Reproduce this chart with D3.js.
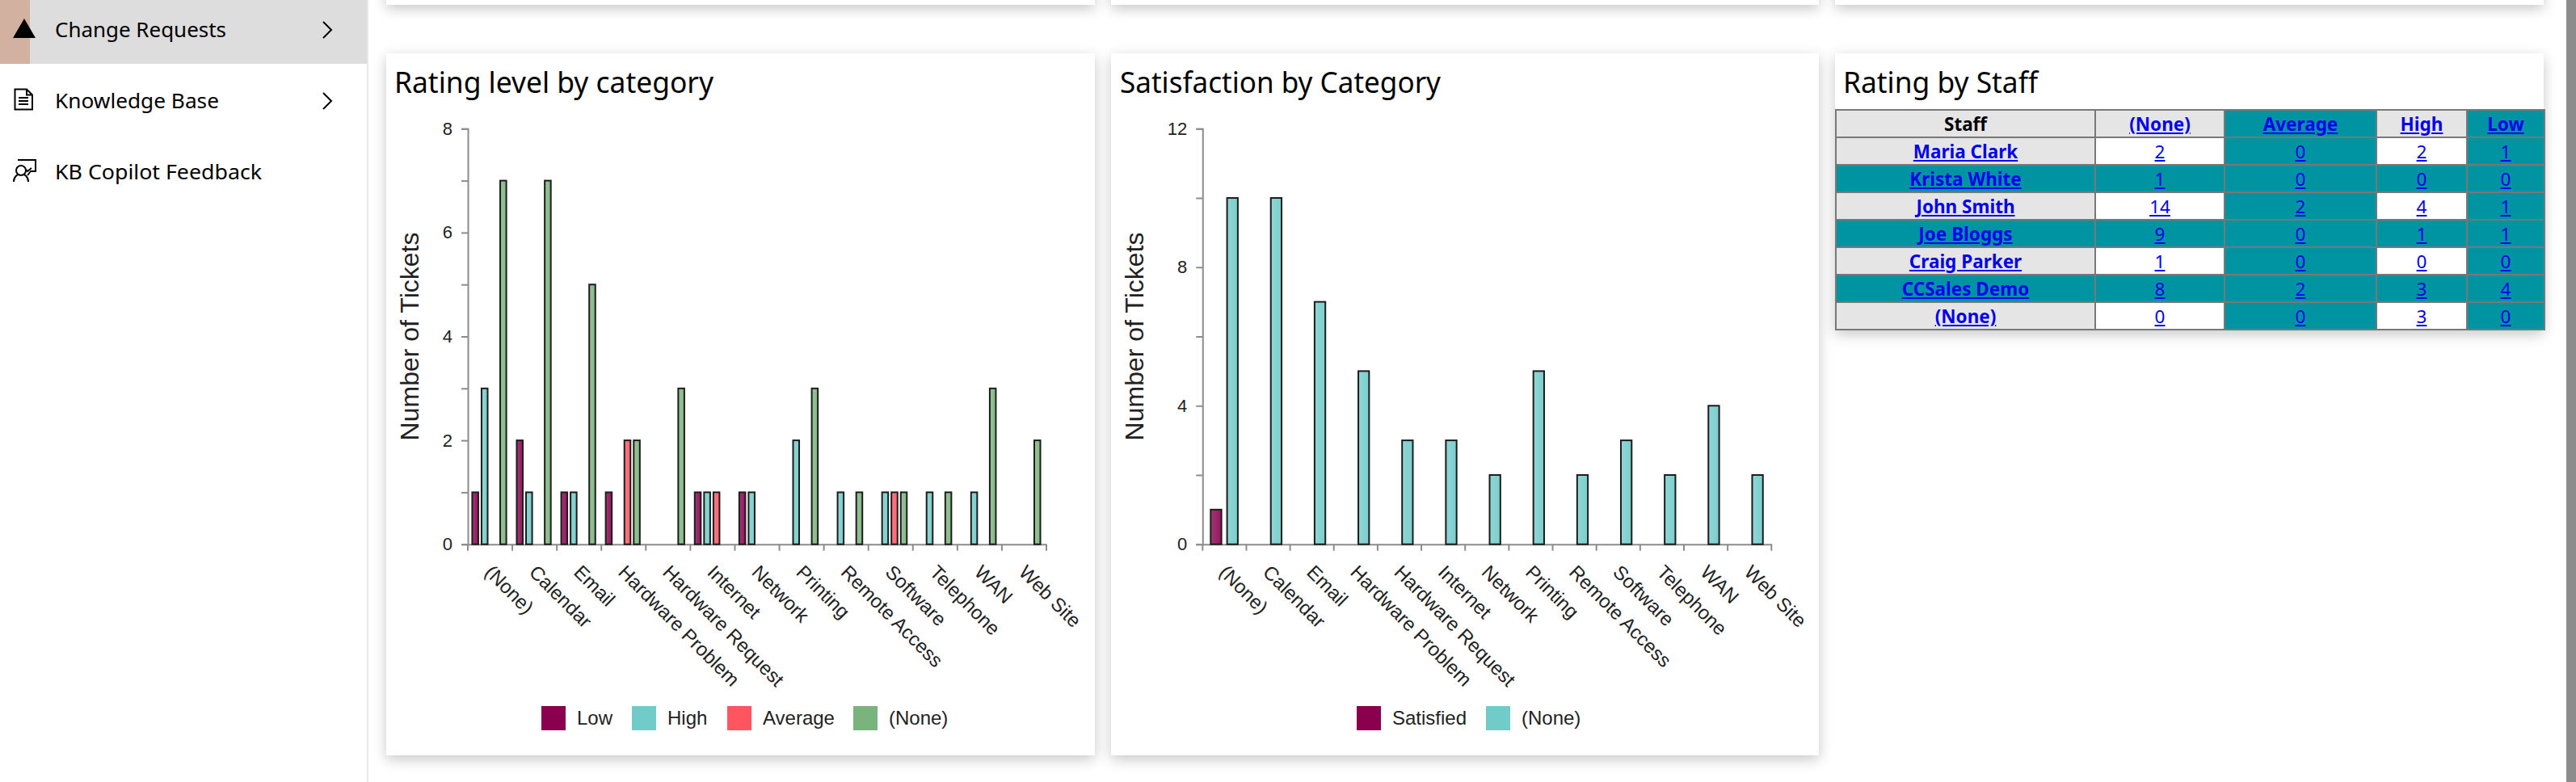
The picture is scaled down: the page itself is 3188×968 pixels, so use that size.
<!DOCTYPE html>
<html>
<head>
<meta charset="utf-8">
<script src="https://cdn.jsdelivr.net/npm/d3@7"></script>
<style>
  html, body { margin: 0; padding: 0; background: #fff; width: 3188px; height: 968px; overflow: hidden; }
  #page { position: absolute; left: 0; top: 0; }
  .card { position: absolute; background: #fff; box-shadow: 0 5px 16px rgba(0,0,0,.22); }
  #sidebar { position: absolute; left: 0; top: 0; width: 454px; height: 968px; background: #fff; border-right: 2px solid #e8e8e8; }
  #scrollbar { position: absolute; left: 3176px; top: 0; width: 12px; height: 968px; background: #8c8c8c; }
  #staffTable { position: absolute; left: 2271px; top: 135px; width: 877px; height: 274px; border-collapse: collapse; table-layout: fixed; font-family: "Noto Sans", sans-serif; font-size: 22.5px; }
  #staffTable td, #staffTable th { border: 2px solid #787878; padding: 2px 0 0 0; text-align: center; height: 30px; line-height: 28px; overflow: hidden; }
  #staffTable a { color: #0000ee; text-decoration: underline; }
  #staffTable .bold { font-weight: 700; }
  .grey { background: #e5e5e5; }
  .teal { background: #0093a2; }
  .white { background: #fff; }
  svg text { font-family: "Liberation Sans", Arial, sans-serif; }
  svg text.ui { font-family: "Noto Sans", sans-serif; fill: #000; }
</style>
</head>
<body>
<div id="cards"></div>
<div id="sidebar"></div>
<div id="scrollbar"></div>
<svg id="page" width="3188" height="968"></svg>
<table id="staffTable"></table>
<script>
// chart data
const categories = ['(None)', 'Calendar', 'Email', 'Hardware Problem', 'Hardware Request', 'Internet', 'Network', 'Printing', 'Remote Access', 'Software', 'Telephone', 'WAN', 'Web Site'];

const ratingSeries = ['Low', 'High', 'Average', '(None)'];
const ratingColors = ['#8a004f', '#70cbc9', '#ff5561', '#7ab37b'];
const ratingLow = [1, 2, 1, 1, 0, 1, 1, 0, 0, 0, 0, 0, 0];
const ratingHigh = [3, 1, 1, 0, 0, 1, 1, 2, 1, 1, 1, 1, 0];
const ratingAverage = [0, 0, 0, 2, 0, 1, 0, 0, 0, 1, 0, 0, 0];
const ratingNone = [7, 7, 5, 2, 3, 0, 0, 3, 1, 1, 1, 3, 2];
const ratingTicks = [0, 1, 2, 3, 4, 5, 6, 7, 8];
const ratingLabels = [0, 2, 4, 6, 8];

const satisfactionSeries = ['Satisfied', '(None)'];
const satisfactionColors = ['#8a004f', '#70cbc9'];
const satisfactionSatisfied = [1, 0, 0, 0, 0, 0, 0, 0, 0, 0, 0, 0, 0];
const satisfactionNone = [10, 10, 7, 5, 3, 3, 2, 5, 2, 3, 2, 4, 2];
const satisfactionTicks = [0, 2, 4, 6, 8, 10, 12];
const satisfactionLabels = [0, 4, 8, 12];

const staffHeaders = ['Staff', '(None)', 'Average', 'High', 'Low'];
const staffNames = ['Maria Clark', 'Krista White', 'John Smith', 'Joe Bloggs', 'Craig Parker', 'CCSales Demo', '(None)'];
const staffNone = [2, 1, 14, 9, 1, 8, 0];
const staffAverage = [0, 0, 2, 0, 0, 2, 0];
const staffHigh = [2, 0, 4, 1, 0, 3, 3];
const staffLow = [1, 0, 1, 1, 0, 4, 0];

const menuItems = ['Change Requests', 'Knowledge Base', 'KB Copilot Feedback'];

const svg = d3.select('#page');
const defs = svg.append('defs');

// bars have a soft lighter sheen on the left
function gradientFor(color) {
  const id = 'grad' + color.slice(1);
  if (defs.select('#' + id).empty()) {
    const g = defs.append('linearGradient').attr('id', id);
    g.append('stop').attr('offset', '0%').attr('stop-color', d3.interpolateRgb(color, '#fff')(0.22));
    g.append('stop').attr('offset', '100%').attr('stop-color', d3.interpolateRgb(color, '#fff')(0.08));
  }
  return 'url(#' + id + ')';
}

// cards
const cardBoxes = [
  [478, -40, 877, 46], [1375, -40, 876, 46], [2271, -40, 877, 46],
  [478, 66, 877, 869], [1375, 66, 876, 869], [2271, 66, 877, 343]
];
d3.select('#cards').selectAll('div').data(cardBoxes).enter().append('div')
  .attr('class', 'card')
  .style('left', d => d[0] + 'px').style('top', d => d[1] + 'px')
  .style('width', d => d[2] + 'px').style('height', d => d[3] + 'px');

// sidebar
svg.append('rect').attr('x', 0).attr('y', 0).attr('width', 454).attr('height', 79).attr('fill', '#dddddd');
svg.append('rect').attr('x', 0).attr('y', 0).attr('width', 37).attr('height', 79).attr('fill', '#d2b1a1');
svg.append('path').attr('d', 'M30 23 L44 47 L16 47 Z').attr('fill', '#000');
svg.append('path').attr('d', 'M18.5 110.5 H33 L40 117.5 V135.5 H18.5 Z M33 110.5 V117.5 H40 M23 121 H35 M23 125 H35 M23 129 H35')
  .attr('fill', 'none').attr('stroke', '#000').attr('stroke-width', 2);
svg.append('path').attr('d', 'M22 198 H44 V212 H38 L34 217 M39 208 L34 212 L32 210 M17 225 C17 212 35 212 35 225')
  .attr('fill', 'none').attr('stroke', '#000').attr('stroke-width', 2);
svg.append('circle').attr('cx', 26).attr('cy', 211).attr('r', 6).attr('fill', '#fff').attr('stroke', '#000').attr('stroke-width', 2);
const menuWidths = [212, 203, 256];
svg.selectAll('.menu').data(menuItems).enter().append('text')
  .attr('class', 'menu ui').attr('x', 68).attr('y', (d, i) => 46 + i * 88)
  .attr('font-size', 26).attr('textLength', (d, i) => menuWidths[i]).attr('lengthAdjust', 'spacingAndGlyphs')
  .text(d => d);
[37, 125].forEach(c => {
  svg.append('path').attr('d', `M400 ${c - 10} L410 ${c} L400 ${c + 10}`).attr('fill', 'none').attr('stroke', '#000').attr('stroke-width', 2);
});

// card titles
const titles = [
  { text: 'Rating level by category', x: 488, width: 395 },
  { text: 'Satisfaction by Category', x: 1386, width: 397 },
  { text: 'Rating by Staff', x: 2281, width: 241 }
];
svg.selectAll('.title').data(titles).enter().append('text')
  .attr('class', 'title ui').attr('x', d => d.x).attr('y', 115)
  .attr('font-size', 36).attr('textLength', d => d.width).attr('lengthAdjust', 'spacingAndGlyphs')
  .text(d => d.text);

function barChart(o) {
  const height = 514.4, top = 159.3;
  const g = svg.append('g').attr('transform', `translate(${o.left},${top})`);

  const x = d3.scaleBand().domain(categories).range([0, o.width]);
  const xInner = d3.scaleBand().domain(o.series).range(o.innerRange).paddingInner(o.innerPad);
  const y = d3.scaleLinear().domain([0, o.yMax]).range([height, 0]);
  const color = d3.scaleOrdinal().domain(o.series).range(o.colors);

  // y axis, labels only on some ticks
  const yAxis = g.append('g').call(d3.axisLeft(y).tickValues(o.ticks).tickSize(8).tickPadding(11)
    .tickFormat(d => o.labels.includes(d) ? d : ''));
  // x axis, ticks sit on the band edges
  const xAxis = g.append('g').attr('transform', `translate(0,${height})`)
    .call(d3.axisBottom(x).tickSize(8).tickSizeOuter(0));
  xAxis.selectAll('.tick line').attr('x1', -x.bandwidth() / 2).attr('x2', -x.bandwidth() / 2);
  xAxis.append('line').attr('x1', o.width).attr('x2', o.width).attr('y1', 0).attr('y2', 8);
  xAxis.selectAll('.tick text')
    .attr('x', 0).attr('y', 0).attr('dy', 0)
    .attr('text-anchor', 'start')
    .attr('transform', 'translate(-8,36) rotate(45)');

  [yAxis, xAxis].forEach(a => {
    a.attr('font-size', null);
    a.selectAll('path.domain, line').attr('stroke', '#8c8c8c').attr('stroke-width', 2);
    a.selectAll('text').attr('fill', '#222').attr('font-size', o.labelSize);
  });
  xAxis.selectAll('line').attr('stroke', '#8c8c8c').attr('stroke-width', 2);
  yAxis.selectAll('text').attr('font-size', 22);

  g.append('text').attr('transform', `translate(${o.titleX},${height / 2}) rotate(-90)`)
    .attr('text-anchor', 'middle').attr('font-size', 32).attr('fill', '#222').text('Number of Tickets');

  // bars, zero counts are left out
  const rows = [];
  o.series.forEach((s, i) => o.values[i].forEach((v, c) => { if (v > 0) rows.push({ s, c: categories[c], v }); }));
  g.selectAll('.bar').data(rows).enter().append('rect')
    .attr('class', 'bar')
    .attr('x', d => x(d.c) + xInner(d.s) + 1)
    .attr('y', d => y(d.v))
    .attr('width', xInner.bandwidth() - 2)
    .attr('height', d => height - y(d.v))
    .attr('fill', d => gradientFor(color(d.s)))
    .attr('stroke', '#1c1c1c').attr('stroke-width', 2);

  // legend
  const legend = svg.append('g');
  o.legendX.forEach((lx, i) => {
    const name = o.series[i];
    legend.append('rect').attr('x', lx).attr('y', 874).attr('width', 30).attr('height', 30).attr('fill', color(name));
    legend.append('text').attr('x', lx + 44).attr('y', 897).attr('font-size', 24).attr('fill', '#222').text(name);
  });
}

barChart({
  left: 579, width: 716, series: ratingSeries, colors: ratingColors,
  values: [ratingLow, ratingHigh, ratingAverage, ratingNone],
  yMax: 8, ticks: ratingTicks, labels: ratingLabels,
  innerRange: [4.4, 48.6], innerPad: 0.174, titleX: -61, labelSize: 24,
  legendX: [670, 782, 900, 1056]
});

barChart({
  left: 1488.3, width: 704, series: satisfactionSeries, colors: satisfactionColors,
  values: [satisfactionSatisfied, satisfactionNone],
  yMax: 12, ticks: satisfactionTicks, labels: satisfactionLabels,
  innerRange: [9, 44.6], innerPad: 0.246, titleX: -73, labelSize: 24,
  legendX: [1679, 1839]
});

// staff table
const table = d3.select('#staffTable');
const colWidths = [321, 160, 188, 112, 96];
table.append('colgroup').selectAll('col').data(colWidths).enter().append('col').style('width', d => d + 'px');
const headClass = ['grey', 'grey', 'teal', 'grey', 'teal'];
const head = table.append('tr');
head.selectAll('th').data(staffHeaders).enter().append('th')
  .attr('class', (d, i) => headClass[i])
  .html((d, i) => i === 0 ? d : `<a href="#">${d}</a>`);
staffNames.forEach((name, r) => {
  const odd = r % 2 === 1;
  const cells = [name, staffNone[r], staffAverage[r], staffHigh[r], staffLow[r]];
  const classes = odd ? ['teal', 'teal', 'teal', 'teal', 'teal'] : ['grey', 'white', 'teal', 'white', 'teal'];
  table.append('tr').selectAll('td').data(cells).enter().append('td')
    .attr('class', (d, i) => classes[i])
    .html((d, i) => `<a href="#" class="${i === 0 ? 'bold' : ''}">${d}</a>`);
});
</script>
</body>
</html>
